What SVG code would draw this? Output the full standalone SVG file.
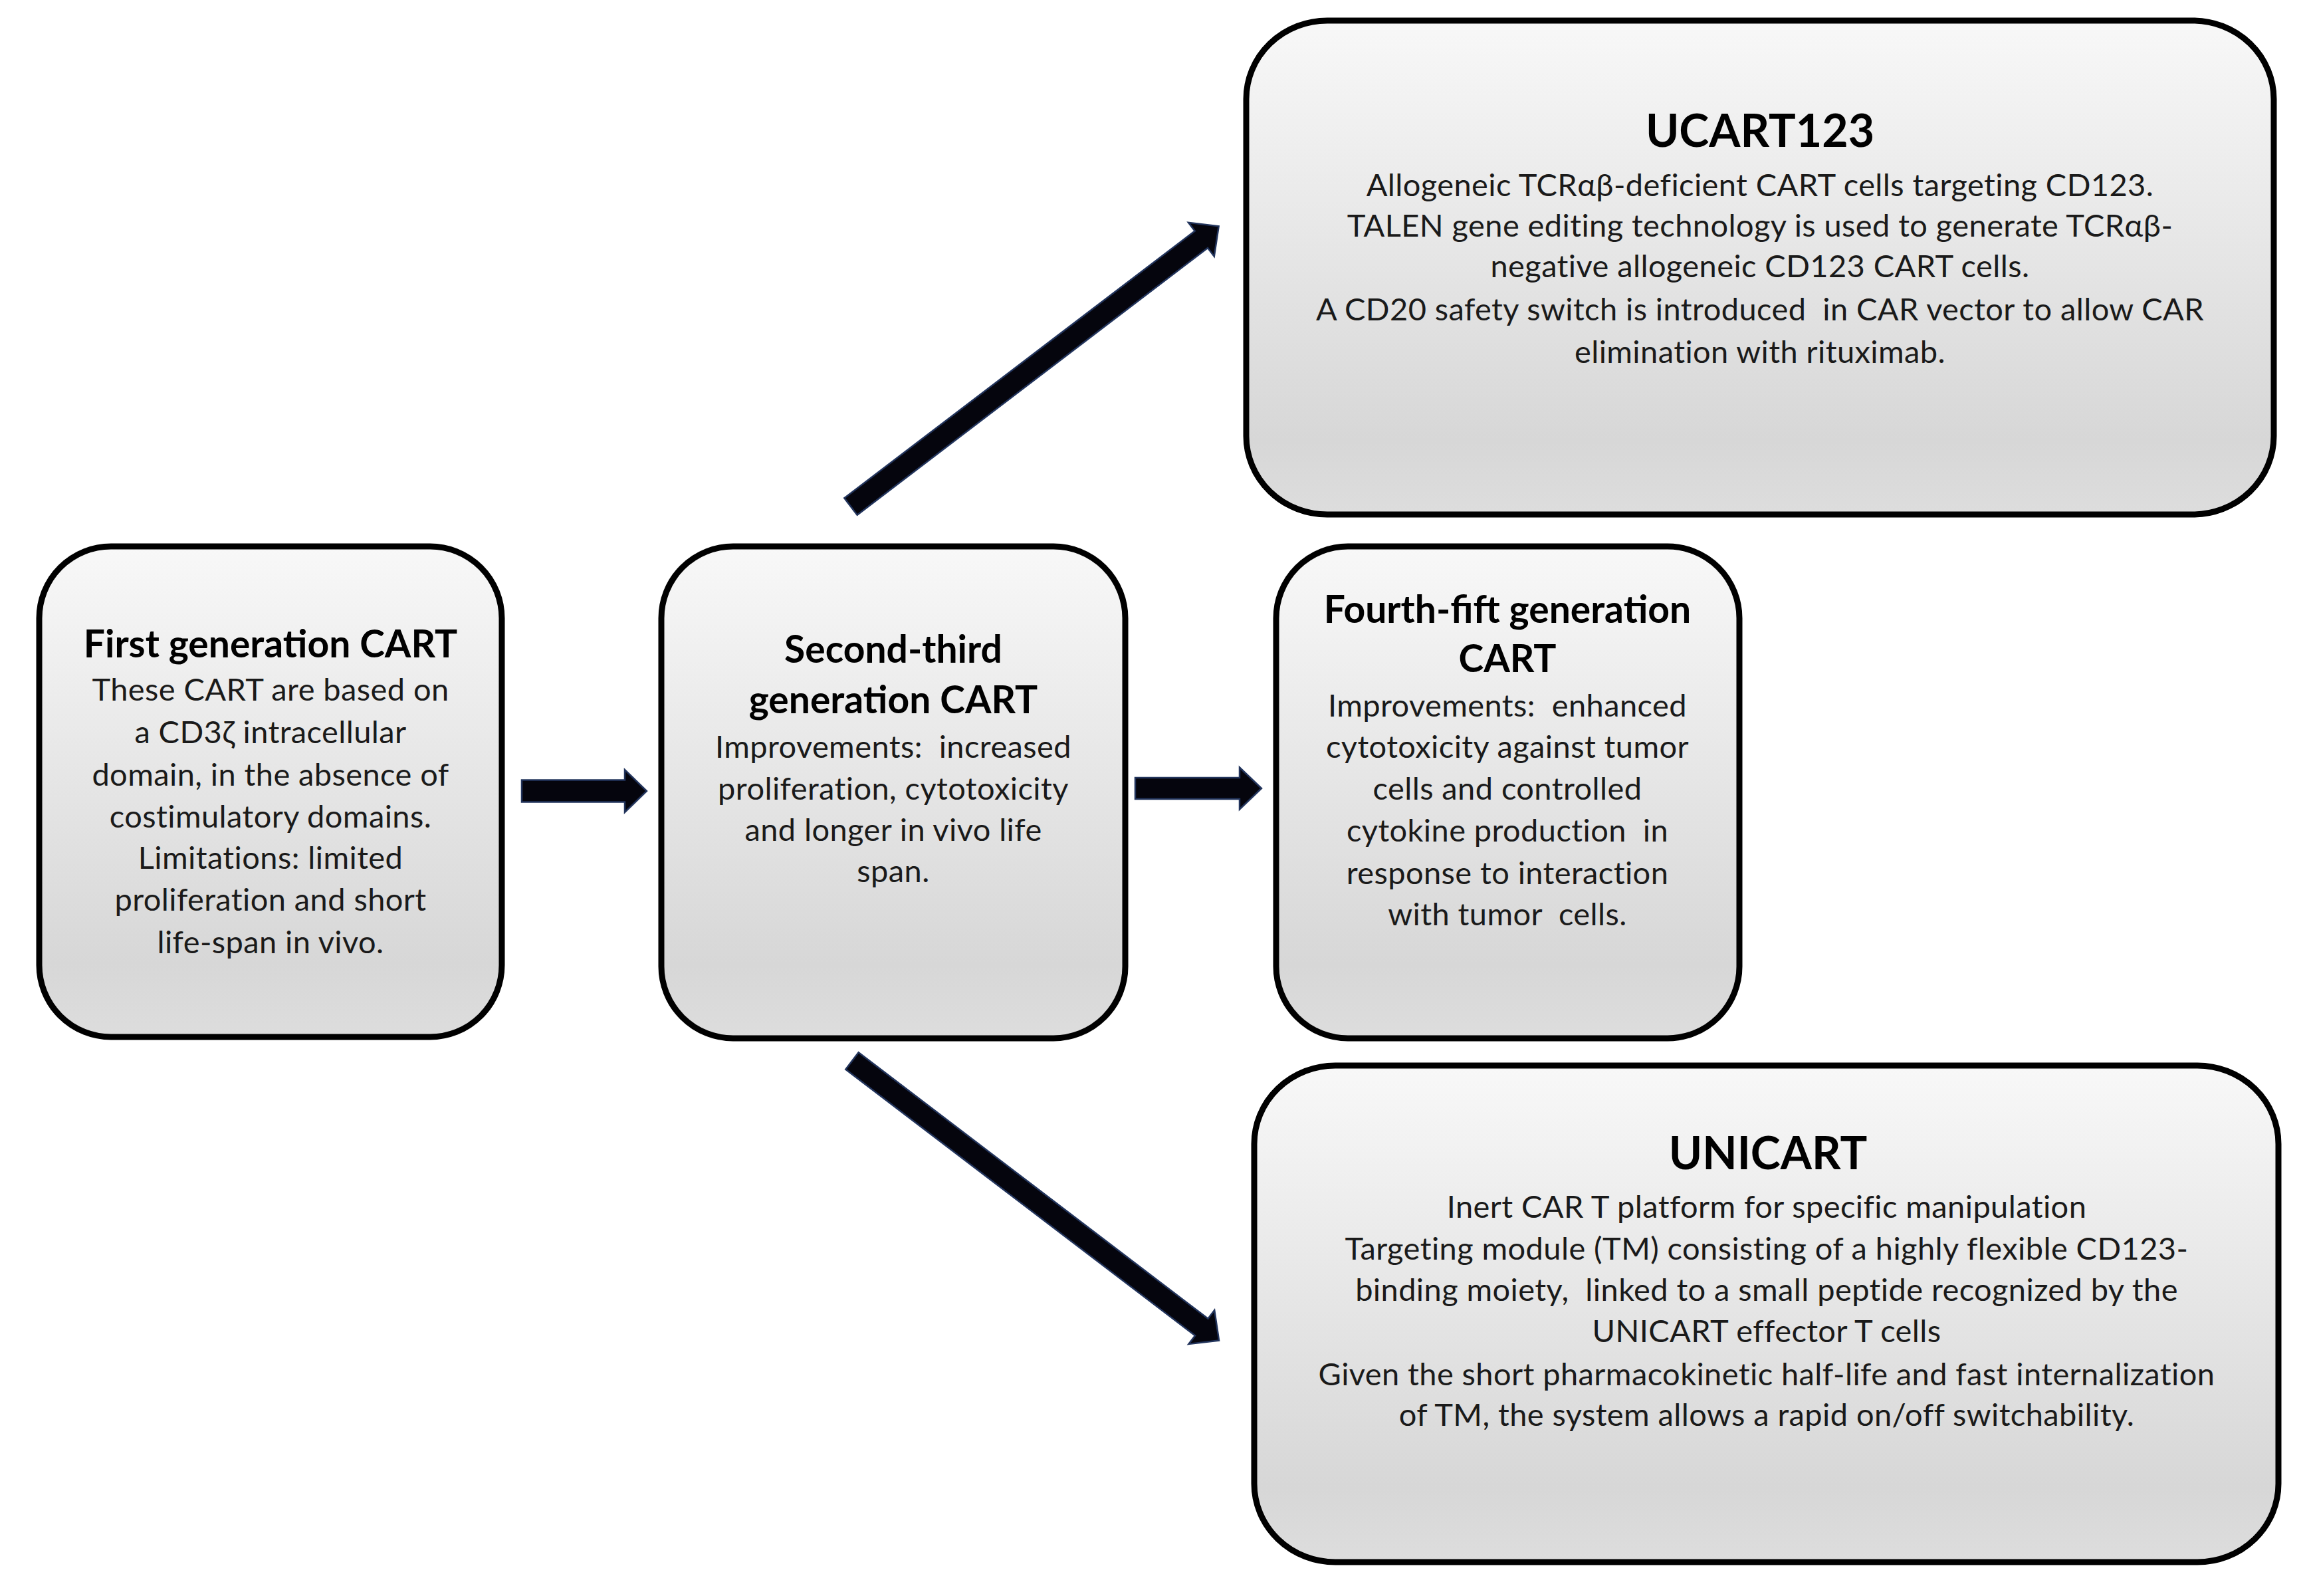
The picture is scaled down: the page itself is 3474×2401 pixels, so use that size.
<svg xmlns="http://www.w3.org/2000/svg" width="3474" height="2401" viewBox="0 0 3474 2401">
<defs>
<linearGradient id="boxfill" x1="0" y1="0" x2="0" y2="1">
<stop offset="0" stop-color="#f8f8f8"/>
<stop offset="0.85" stop-color="#d7d7d7"/>
<stop offset="1" stop-color="#dddddd"/>
</linearGradient>
<style>
.box{fill:url(#boxfill);stroke:#000;stroke-width:9}
.t{font-family:Lato,"Open Sans","Liberation Sans",sans-serif;font-weight:bold;fill:#000;text-anchor:middle;white-space:pre}
.tb{font-size:57px}
.tl{font-size:68px}
.b{font-family:Lato,"Open Sans","Liberation Sans",sans-serif;font-size:47px;letter-spacing:0.4px;fill:#1a1a1a;text-anchor:middle;white-space:pre}
.arr{fill:#05050d;stroke:#22345c;stroke-width:2.5;stroke-linejoin:miter}
</style>
</defs>
<rect width="3474" height="2401" fill="#fff"/>
<g id="connectors">
<polygon class="arr" transform="translate(785,1190)" points="0,-16.5 155,-16.5 155,-32 188,0 155,32 155,16.5 0,16.5"/>
<polygon class="arr" transform="translate(1708,1186)" points="0,-16 157,-16 157,-31.5 190,0 157,31.5 157,16 0,16"/>
<polygon class="arr" transform="translate(1280,762) rotate(-37.3)" points="0,-16 663,-16 663,-32 696,0 663,32 663,16 0,16"/>
<polygon class="arr" transform="translate(1282,1596) rotate(37.3)" points="0,-16 661,-16 661,-32 694,0 661,32 661,16 0,16"/>
</g>
<g id="first-generation">
<rect class="box" x="59" y="822" width="696" height="738" rx="108" ry="108"/>
<text class="t tb" x="407" y="989">First generation CART</text>
<text class="b" x="407" y="1054">These CART are based on</text>
<text class="b" x="407" y="1118">a CD3ζ intracellular</text>
<text class="b" x="407" y="1182">domain, in the absence of</text>
<text class="b" x="407" y="1245">costimulatory domains.</text>
<text class="b" x="407" y="1307">Limitations: limited</text>
<text class="b" x="407" y="1370">proliferation and short</text>
<text class="b" x="407" y="1434">life-span in vivo.</text>
</g>
<g id="second-third-generation">
<rect class="box" x="995" y="822" width="698" height="740" rx="108" ry="108"/>
<text class="t tb" x="1344" y="997">Second-third</text>
<text class="t tb" x="1344" y="1073">generation CART</text>
<text class="b" x="1344" y="1140">Improvements:  increased</text>
<text class="b" x="1344" y="1203">proliferation, cytotoxicity</text>
<text class="b" x="1344" y="1265">and longer in vivo life</text>
<text class="b" x="1344" y="1327">span.</text>
</g>
<g id="fourth-fifth-generation">
<rect class="box" x="1920" y="822" width="697" height="740" rx="108" ry="108"/>
<text class="t tb" x="2268" y="937">Fourth-fift generation</text>
<text class="t tb" x="2268" y="1011">CART</text>
<text class="b" x="2268" y="1078">Improvements:  enhanced</text>
<text class="b" x="2268" y="1140">cytotoxicity against tumor</text>
<text class="b" x="2268" y="1203">cells and controlled</text>
<text class="b" x="2268" y="1266">cytokine production  in</text>
<text class="b" x="2268" y="1330">response to interaction</text>
<text class="b" x="2268" y="1392">with tumor  cells.</text>
</g>
<g id="ucart123">
<rect class="box" x="1875" y="31" width="1546" height="743" rx="122" ry="118"/>
<text class="t tl" x="2648" y="221">UCART123</text>
<text class="b" x="2648" y="295">Allogeneic TCRαβ-deficient CART cells targeting CD123.</text>
<text class="b" x="2648" y="356">TALEN gene editing technology is used to generate TCRαβ-</text>
<text class="b" x="2648" y="417">negative allogeneic CD123 CART cells.</text>
<text class="b" x="2648" y="482">A CD20 safety switch is introduced  in CAR vector to allow CAR</text>
<text class="b" x="2648" y="546">elimination with rituximab.</text>
</g>
<g id="unicart">
<rect class="box" x="1887" y="1603" width="1541" height="747" rx="122" ry="118"/>
<text class="t tl" x="2660" y="1759">UNICART</text>
<text class="b" x="2658" y="1832">Inert CAR T platform for specific manipulation</text>
<text class="b" x="2658" y="1895">Targeting module (TM) consisting of a highly flexible CD123-</text>
<text class="b" x="2658" y="1957">binding moiety,  linked to a small peptide recognized by the</text>
<text class="b" x="2658" y="2019">UNICART effector T cells</text>
<text class="b" x="2658" y="2084">Given the short pharmacokinetic half-life and fast internalization</text>
<text class="b" x="2658" y="2145">of TM, the system allows a rapid on/off switchability.</text>
</g>
</svg>
